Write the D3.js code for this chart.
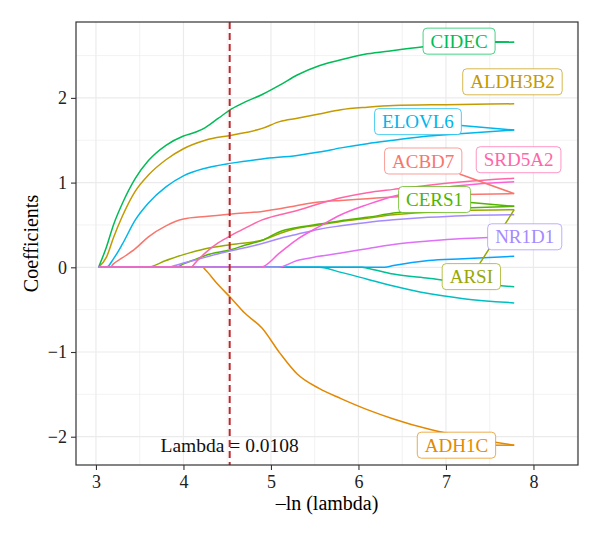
<!DOCTYPE html>
<html>
<head>
<meta charset="utf-8">
<script src="https://cdn.jsdelivr.net/npm/d3@7"></script>
<style>
  body { margin: 0; background: #fff; }
  text { font-family: "Liberation Serif", "Times New Roman", serif; }
</style>
</head>
<body>
<svg id="chart" width="600" height="534"></svg>
<script>
// lasso coefficient paths: [-ln(lambda), coefficient]
const ACBD7 = [[3.03,0],[3.16,0],[3.2,0.04],[3.3,0.11],[3.45,0.22],[3.6,0.36],[3.8,0.49],[4.0,0.57],[4.25,0.60],[4.55,0.63],[4.9,0.66],[5.1,0.69],[5.3,0.73],[5.55,0.77],[5.8,0.79],[6.1,0.81],[6.4,0.83],[6.8,0.85],[7.2,0.86],[7.78,0.87]];
const ADH1C = [[3.03,0],[4.22,0],[4.25,-0.03],[4.4,-0.21],[4.55,-0.37],[4.7,-0.54],[4.9,-0.72],[5.1,-1.01],[5.3,-1.26],[5.55,-1.43],[5.8,-1.55],[6.1,-1.68],[6.4,-1.79],[6.8,-1.91],[7.2,-2.0],[7.78,-2.1]];
const ALDH3B2 = [[3.03,0],[3.12,0.12],[3.2,0.35],[3.3,0.6],[3.45,0.9],[3.6,1.09],[3.8,1.27],[4.0,1.40],[4.25,1.50],[4.55,1.56],[4.9,1.64],[5.1,1.72],[5.3,1.76],[5.55,1.81],[5.8,1.86],[6.1,1.89],[6.4,1.91],[7.0,1.92],[7.78,1.93]];
const ARSI = [[3.03,0],[3.58,0],[3.8,0.08],[4.0,0.15],[4.25,0.22],[4.55,0.27],[4.9,0.32],[5.1,0.40],[5.3,0.46],[5.55,0.50],[5.8,0.54],[6.1,0.58],[6.4,0.62],[6.8,0.65],[7.2,0.67],[7.78,0.68]];
const CERS1 = [[3.03,0],[3.92,0],[4.0,0.04],[4.15,0.10],[4.25,0.14],[4.55,0.21],[4.7,0.26],[4.9,0.32],[5.1,0.42],[5.3,0.47],[5.55,0.51],[5.8,0.55],[6.1,0.59],[6.4,0.64],[6.8,0.68],[7.2,0.70],[7.78,0.72]];
const CIDEC = [[3.03,0],[3.12,0.24],[3.2,0.50],[3.3,0.75],[3.45,1.05],[3.6,1.26],[3.8,1.44],[4.0,1.55],[4.15,1.60],[4.25,1.65],[4.4,1.76],[4.55,1.87],[4.7,1.95],[4.9,2.04],[5.1,2.15],[5.3,2.27],[5.55,2.38],[5.8,2.45],[6.1,2.52],[6.4,2.56],[6.8,2.61],[7.2,2.64],[7.78,2.66]];
const gene7 = [[3.03,0],[6.04,0],[6.1,-0.01],[6.4,-0.08],[6.8,-0.13],[7.2,-0.18],[7.78,-0.23]];
const gene8 = [[3.03,0],[5.55,0],[5.8,-0.06],[6.1,-0.14],[6.4,-0.22],[6.8,-0.31],[7.2,-0.37],[7.78,-0.42]];
const ELOVL6 = [[3.03,0],[3.12,0],[3.2,0.10],[3.3,0.27],[3.45,0.56],[3.6,0.76],[3.8,0.95],[4.0,1.08],[4.25,1.17],[4.55,1.23],[4.9,1.28],[5.3,1.32],[5.55,1.36],[5.8,1.41],[6.1,1.46],[6.4,1.50],[6.8,1.55],[7.2,1.58],[7.78,1.62]];
const gene10 = [[3.03,0],[6.3,0],[6.4,0.02],[6.8,0.08],[7.2,0.10],[7.78,0.13]];
const NR1D1 = [[3.03,0],[3.8,0],[4.0,0.05],[4.15,0.09],[4.4,0.16],[4.7,0.23],[4.9,0.28],[5.1,0.34],[5.3,0.39],[5.55,0.45],[5.8,0.49],[6.1,0.53],[6.4,0.56],[6.8,0.59],[7.2,0.61],[7.78,0.62]];
const gene12 = [[3.03,0],[5.08,0],[5.3,0.08],[5.55,0.13],[5.8,0.17],[6.1,0.22],[6.4,0.27],[6.8,0.31],[7.2,0.34],[7.78,0.36]];
const gene13 = [[3.03,0],[4.88,0],[5.1,0.17],[5.3,0.33],[5.55,0.48],[5.8,0.62],[6.1,0.74],[6.4,0.84],[6.8,0.92],[7.2,0.97],[7.78,1.01]];
const SRD5A2 = [[3.03,0],[4.08,0],[4.15,0.07],[4.25,0.17],[4.4,0.29],[4.55,0.38],[4.7,0.46],[4.9,0.56],[5.1,0.62],[5.3,0.67],[5.55,0.75],[5.8,0.82],[6.1,0.88],[6.4,0.92],[6.8,0.97],[7.2,1.01],[7.78,1.05]];

const genes = ["ACBD7","ADH1C","ALDH3B2","ARSI","CERS1","CIDEC","gene7","gene8","ELOVL6","gene10","NR1D1","gene12","gene13","SRD5A2"];
const paths = [ACBD7, ADH1C, ALDH3B2, ARSI, CERS1, CIDEC, gene7, gene8, ELOVL6, gene10, NR1D1, gene12, gene13, SRD5A2];
const palette = ["#F8766D","#E38900","#C49A00","#99A800","#53B400","#00BC56","#00C094","#00BFC4","#00B6EB","#06A4FF","#A58AFF","#DF70F8","#FB61D7","#FF66A8"];

// repelled labels (centre, in data units)
const labelGenes = ["ACBD7","ADH1C","ALDH3B2","ARSI","CERS1","CIDEC","ELOVL6","NR1D1","SRD5A2"];
const labelX = [6.74, 7.12, 7.76, 7.29, 6.87, 7.15, 6.68, 7.90, 7.83];
const labelY = [1.255, -2.10, 2.19, -0.11, 0.80, 2.67, 1.72, 0.36, 1.27];

const xTicks = [3, 4, 5, 6, 7, 8];
const yTicks = [-2, -1, 0, 1, 2];
const lambdaMin = 0.0108;

const svg = d3.select("#chart");
const margin = {top: 22, right: 22, bottom: 69, left: 76};
const W = 600, H = 534;

const x = d3.scaleLinear().domain([2.772, 8.509]).range([margin.left, W - margin.right]);
const y = d3.scaleLinear().domain([-2.334, 2.896]).range([H - margin.bottom, margin.top]);

svg.append("rect").attr("width", W).attr("height", H).attr("fill", "#fff");

// grid
const grid = svg.append("g");
const xMinor = d3.range(2.5, 9, 1).filter(v => v > x.domain()[0] && v < x.domain()[1]);
const yMinor = d3.range(-2.5, 3, 1).filter(v => v > y.domain()[0] && v < y.domain()[1]);
grid.selectAll(".xm").data(xMinor).join("line")
  .attr("x1", d => x(d)).attr("x2", d => x(d))
  .attr("y1", y.range()[1]).attr("y2", y.range()[0])
  .attr("stroke", "#ebebeb").attr("stroke-width", 0.6);
grid.selectAll(".ym").data(yMinor).join("line")
  .attr("y1", d => y(d)).attr("y2", d => y(d))
  .attr("x1", x.range()[0]).attr("x2", x.range()[1])
  .attr("stroke", "#ebebeb").attr("stroke-width", 0.6);
grid.selectAll(".xM").data(xTicks).join("line")
  .attr("x1", d => x(d)).attr("x2", d => x(d))
  .attr("y1", y.range()[1]).attr("y2", y.range()[0])
  .attr("stroke", "#ebebeb").attr("stroke-width", 1.2);
grid.selectAll(".yM").data(yTicks).join("line")
  .attr("y1", d => y(d)).attr("y2", d => y(d))
  .attr("x1", x.range()[0]).attr("x2", x.range()[1])
  .attr("stroke", "#ebebeb").attr("stroke-width", 1.2);

// coefficient lines
const line = d3.line().x(d => x(d[0])).y(d => y(d[1])).curve(d3.curveMonotoneX);
svg.append("g").selectAll("path").data(paths).join("path")
  .attr("d", line)
  .attr("fill", "none")
  .attr("stroke", (d, i) => palette[i])
  .attr("stroke-width", 1.5);

// optimal lambda
const xl = -Math.log(lambdaMin);
svg.append("line")
  .attr("x1", x(xl)).attr("x2", x(xl))
  .attr("y1", y.range()[1]).attr("y2", y.range()[0])
  .attr("stroke", "#c0272d").attr("stroke-width", 2)
  .attr("stroke-dasharray", "7,4");

svg.append("text")
  .attr("x", x(xl)).attr("y", y(-2.1))
  .attr("dy", "0.35em")
  .attr("text-anchor", "middle")
  .attr("font-size", 19.5)
  .attr("fill", "#111")
  .text("Lambda = " + lambdaMin);

// labels with leader segments
const segG = svg.append("g");
const labG = svg.append("g");
labelGenes.forEach((g, k) => {
  const i = genes.indexOf(g);
  const col = palette[i];
  const end = paths[i][paths[i].length - 1];
  const cx = x(labelX[k]), cy = y(labelY[k]);
  const t = labG.append("text")
    .attr("x", cx).attr("y", cy).attr("dy", "0.35em")
    .attr("text-anchor", "middle")
    .attr("font-size", 19)
    .attr("fill", col)
    .text(g);
  const w = t.node().getComputedTextLength() + 15, h = 26;
  labG.insert("rect", "text:last-child")
    .attr("x", cx - w / 2).attr("y", cy - h / 2)
    .attr("width", w).attr("height", h)
    .attr("rx", 4)
    .attr("fill", "#fff")
    .attr("stroke", col).attr("stroke-opacity", 0.7).attr("stroke-width", 1);
  // segment from box edge to path end
  const ex = x(end[0]), ey = y(end[1]);
  const dx = ex - cx, dy = ey - cy;
  const s = Math.min(dx !== 0 ? (w / 2) / Math.abs(dx) : Infinity, dy !== 0 ? (h / 2) / Math.abs(dy) : Infinity);
  if (s < 1) {
    const sx = cx + dx * s, sy = cy + dy * s;
    if (Math.hypot(ex - sx, ey - sy) > 10) {
      segG.append("line")
        .attr("x1", sx).attr("y1", sy).attr("x2", ex).attr("y2", ey)
        .attr("stroke", col).attr("stroke-width", 1.5);
    }
  }
});

// panel border
svg.append("rect")
  .attr("x", x.range()[0]).attr("y", y.range()[1])
  .attr("width", x.range()[1] - x.range()[0])
  .attr("height", y.range()[0] - y.range()[1])
  .attr("fill", "none").attr("stroke", "#333").attr("stroke-width", 1.2);

// axes
const xAxis = svg.append("g")
  .attr("transform", `translate(0,${y.range()[0]})`)
  .call(d3.axisBottom(x).tickValues(xTicks).tickSize(5).tickPadding(5).tickFormat(d3.format("d")));
const yAxis = svg.append("g")
  .attr("transform", `translate(${x.range()[0]},0)`)
  .call(d3.axisLeft(y).tickValues(yTicks).tickSize(5).tickPadding(4).tickFormat(d => d < 0 ? "\u2212" + Math.abs(d) : d));
[xAxis, yAxis].forEach(a => {
  a.select(".domain").remove();
  a.selectAll(".tick line").attr("stroke", "#333").attr("stroke-width", 1.1);
  a.selectAll(".tick text").attr("font-size", 18).attr("fill", "#222")
    .attr("font-family", "'Liberation Serif', serif");
});

svg.append("text")
  .attr("x", (x.range()[0] + x.range()[1]) / 2).attr("y", 510)
  .attr("text-anchor", "middle")
  .attr("font-size", 20)
  .text("\u2013ln (lambda)");

svg.append("text")
  .attr("transform", `translate(37.5,${(y.range()[0] + y.range()[1]) / 2}) rotate(-90)`)
  .attr("text-anchor", "middle")
  .attr("font-size", 20)
  .text("Coefficients");
</script>
</body>
</html>
